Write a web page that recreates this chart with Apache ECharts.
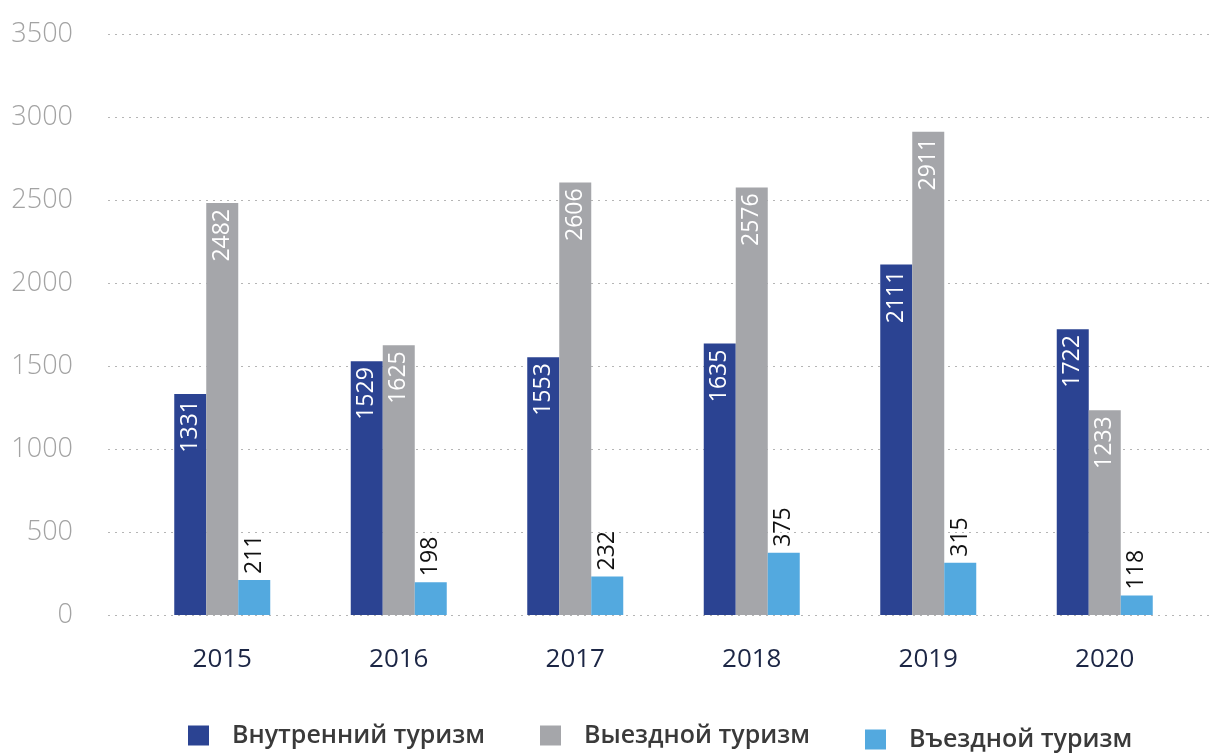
<!DOCTYPE html>
<html><head><meta charset="utf-8">
<script src="https://cdn.jsdelivr.net/npm/echarts@6/dist/echarts.min.js"></script>
<style>html,body{margin:0;padding:0;background:#fff}#c{width:1211px;height:754px}</style>
</head><body><div id="c"></div>
<script>
const categories = ['2015','2016','2017','2018','2019','2020'];
const seriesNames = ['Внутренний туризм','Выездной туризм','Въездной туризм'];
const domestic = [1331,1529,1553,1635,2111,1722];
const outbound = [2482,1625,2606,2576,2911,1233];
const inbound = [211,198,232,375,315,118];
const yTicks = [0,500,1000,1500,2000,2500,3000,3500];

const FONT = '"Open Sans", "Noto Sans", sans-serif';
const colors = ['#2b4392','#a5a6aa','#53a9df'];
const chart = echarts.init(document.getElementById('c'), null, {renderer:'canvas'});

function innerLabel(){
  return {show:true, position:'insideTop', rotate:90, align:'right', verticalAlign:'middle', distance:6,
    color:'#ffffff', fontSize:23, fontFamily:FONT};
}
function legendFor(i, left, top){
  return {left:left, top:top, padding:0, itemWidth:21, itemHeight:20, icon:'rect', orient:'horizontal',
    textStyle:{color:'#3a3a3a', fontSize:25, fontFamily:FONT, fontWeight:600, padding:[0,0,6,18]},
    data:[seriesNames[i]]};
}
chart.setOption({
  animation:false,
  color: colors,
  grid:[
    {left:108, right:0, top:34, bottom:139},
    {left:134, right:18, top:34, bottom:139}
  ],
  xAxis:[
    {gridIndex:0, type:'category', data:categories, show:false},
    {gridIndex:1, type:'category', data:categories,
     axisLine:{show:false}, axisTick:{show:false},
     axisLabel:{color:'#1c2645', fontSize:26, fontFamily:FONT, margin:32}}
  ],
  yAxis:[
    {gridIndex:0, type:'value', min:yTicks[0], max:yTicks[yTicks.length-1], interval:500,
     axisLine:{show:false}, axisTick:{show:false},
     axisLabel:{color:'#a3a3a3', fontSize:27, fontFamily:FONT, fontWeight:300, margin:35,
       formatter: v => String(v)},
     splitLine:{show:true, lineStyle:{color:'#b5b5b5', type:[2,5], width:1}}},
    {gridIndex:1, type:'value', min:yTicks[0], max:yTicks[yTicks.length-1], interval:500, show:false,
     splitLine:{show:false}}
  ],
  legend:[legendFor(0,188,723), legendFor(1,540,723), legendFor(2,865,727)],
  series:[
    {name:seriesNames[0], type:'bar', xAxisIndex:1, yAxisIndex:1, data:domestic, barWidth:32, barGap:'0%', label:innerLabel()},
    {name:seriesNames[1], type:'bar', xAxisIndex:1, yAxisIndex:1, data:outbound, barWidth:32, barGap:'0%', label:innerLabel()},
    {name:seriesNames[2], type:'bar', xAxisIndex:1, yAxisIndex:1, data:inbound, barWidth:32, barGap:'0%',
     label:{show:true, position:'top', rotate:90, align:'left', verticalAlign:'middle', distance:6,
       color:'#111111', fontSize:23, fontFamily:FONT}}
  ]
});
</script></body></html>
